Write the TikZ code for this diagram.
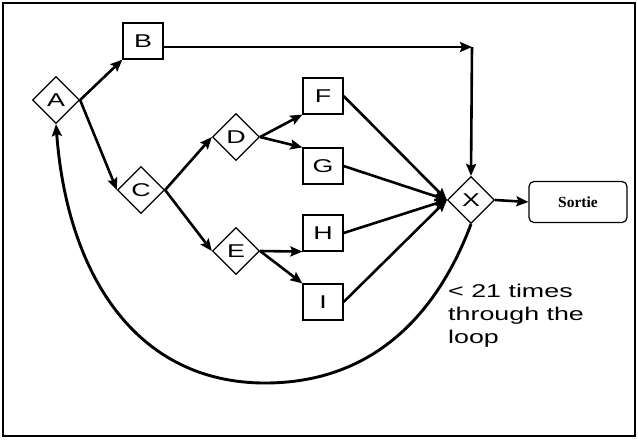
\documentclass[tikz,border=0pt]{standalone}
\usepackage{fontspec}
\setmainfont{Liberation Sans}[FakeStretch=1.45]
\newfontfamily\sortiefont{Liberation Serif}
\usetikzlibrary{shapes.geometric,arrows.meta}

\begin{document}
\begin{tikzpicture}[x=1pt,y=-1pt,
  dec/.style={diamond,draw,line width=1.2pt,minimum size=47pt,inner sep=0pt,font=\fontsize{18.5}{22}\selectfont},
  act/.style={rectangle,draw,line width=1.2pt,minimum width=40pt,minimum height=36pt,inner sep=0pt,font=\fontsize{18.5}{22}\selectfont},
  flow/.style={line width=2.6pt,-{Stealth[length=12pt,width=10pt,inset=2pt]}}]

\useasboundingbox (0,0) rectangle (638,440);
\draw[line width=1.6pt] (3,3) rectangle (635,436);

\node[dec] (A) at (56,100) {A};

\node[act] (B) at (143,41) {B};
\node[dec] (C) at (141,190) {C};

\node[dec] (D) at (236,137) {D};
\node[dec] (E) at (236,251) {E};

\node[act] (F) at (323,96) {F};
\node[act] (G) at (323,166) {G};
\node[act] (H) at (323,233) {H};
\node[act] (I) at (323,302) {I};

\node[dec] (X) at (471,200) {X};
\node[rectangle,draw,rounded corners=5pt,line width=1.2pt,minimum width=98pt,minimum height=41pt,
  font=\sortiefont\bfseries\fontsize{15.5}{18}\selectfont] (S) at (578,202) {Sortie};

\coordinate (turn) at (472,47);
\coordinate (loopbot) at (265,383);

\draw[flow] (A.east) -- (B.south west);
\draw[flow] (A.east) -- (C.west);
\draw[flow] (B.east |- turn) -- (turn);
\draw[flow] (turn) -- (X.north);
\draw[flow] (C.east) -- (D.west);
\draw[flow] (C.east) -- (E.west);
\draw[flow] (D.east) -- (F.south west);
\draw[flow] (D.east) -- (G.north west);
\draw[flow] (E.east) -- (H.south west);
\draw[flow] (E.east) -- (I.north west);
\draw[flow] (F.east) -- (X.west);
\draw[flow] (G.east) -- (X.west);
\draw[flow] (H.east) -- (X.west);
\draw[flow] (I.east) -- (X.west);
\draw[flow] (X.east) -- (S.west);

\draw[flow,line width=2.9pt] (X.south) .. controls (438,312) and (375,383) .. (loopbot)
  .. controls (135,383) and (67,273) .. (A.south);

\node[anchor=north west,align=left,inner sep=0pt,font=\fontsize{18.5}{23}\selectfont] (note) at (448,284)
  {< 21 times\\through the\\loop};

\end{tikzpicture}
\end{document}
